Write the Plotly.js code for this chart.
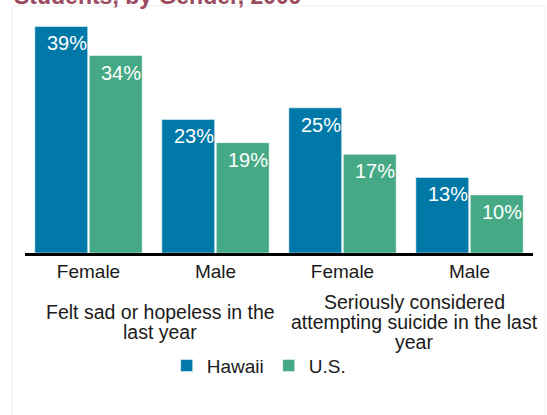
<!DOCTYPE html>
<html>
<head>
<meta charset="utf-8">
<script src="https://cdn.plot.ly/plotly-3.0.1.min.js"></script>
<style>html,body{margin:0;padding:0;background:#fff;}#chart{width:547px;height:415px;}</style>
</head>
<body>
<div id="chart"></div>
<script>
// ---- Data ----
var categories = ['Female', 'Male', 'Female', 'Male'];
var hawaii = [39, 23, 25, 13];
var us = [34, 19, 17, 10];
var seriesNames = ['Hawaii', 'U.S.'];
var groupLabels = [
  ['Felt sad or hopeless in the', 'last year'],
  ['Seriously considered', 'attempting suicide in the last', 'year']
];
var groupCenters = [0.5, 2.5];
var titleText = 'Students, by Gender, 2009';

// ---- Styles ----
var FONT = 'Liberation Sans, Arial, sans-serif';
var colors = ['#0079a9', '#44a984'];
var xIdx = categories.map(function (c, i) { return i; });

var traces = [hawaii, us].map(function (vals, s) {
  return {
    type: 'bar',
    name: seriesNames[s],
    x: xIdx,
    y: vals,
    marker: { color: colors[s], line: { color: '#ffffff', width: 0.5 } },
    hoverinfo: 'skip'
  };
});

var annotations = [];
[hawaii, us].forEach(function (vals, s) {
  vals.forEach(function (v, i) {
    annotations.push({
      x: xIdx[i], y: v, xref: 'x', yref: 'y',
      text: v + '%', showarrow: false,
      xanchor: 'right', yanchor: 'top',
      xshift: s === 0 ? 0 : 54, yshift: -4,
      font: { family: FONT, size: 20, color: '#ffffff' }
    });
  });
});

var lineH = 20;
groupLabels.forEach(function (lines, g) {
  lines.forEach(function (txt, k) {
    annotations.push({
      x: groupCenters[g], y: -0.3, xref: 'x', yref: 'paper',
      text: txt, showarrow: false,
      xanchor: 'center', yanchor: 'middle',
      xshift: 8, yshift: -((k - (lines.length - 1) / 2) * lineH),
      font: { family: FONT, size: 19.5, color: '#1a1a1a' }
    });
  });
});

// Title (partially cropped at the top edge, as in the reference)
annotations.push({
  x: -13 / 508, y: 1.05, xref: 'paper', yref: 'paper',
  xanchor: 'left', yanchor: 'bottom', showarrow: false,
  text: '<b>' + titleText + '</b>',
  font: { family: FONT, size: 23, color: '#9b4a5f' }
});

var layout = {
  width: 547, height: 415,
  margin: { l: 25, r: 14, t: 23, b: 162, pad: 0 },
  paper_bgcolor: '#ffffff', plot_bgcolor: '#ffffff',
  barmode: 'group', bargap: 0.142, bargroupgap: 0.03,
  xaxis: {
    range: [-0.5, 3.5], tickvals: xIdx, ticktext: categories,
    showline: true, linecolor: '#000000', linewidth: 2.5,
    ticks: '', showgrid: false, zeroline: false,
    tickfont: { family: FONT, size: 19, color: '#1a1a1a' }, fixedrange: true
  },
  yaxis: { range: [0, 39.6], visible: false, showgrid: false, zeroline: false, fixedrange: true },
  showlegend: true,
  legend: {
    orientation: 'h', x: 0.46, xanchor: 'center', y: -0.49, yanchor: 'middle',
    font: { family: FONT, size: 19, color: '#1a1a1a' }, bgcolor: 'rgba(0,0,0,0)'
  },
  shapes: [{
    type: 'rect', xref: 'paper', yref: 'paper',
    x0: -13 / 508, x1: 520 / 508, y0: -200 / 230, y1: 247 / 230,
    line: { color: '#efefef', width: 1 }, layer: 'below'
  }],
  annotations: annotations
};

Plotly.newPlot('chart', traces, layout, { displayModeBar: false, staticPlot: true });
</script>
</body>
</html>
